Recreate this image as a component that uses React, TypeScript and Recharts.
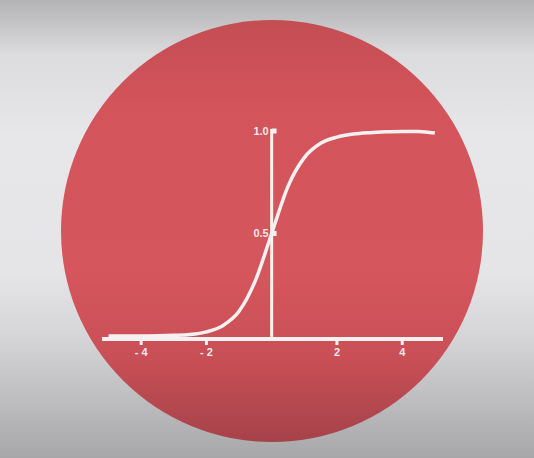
import React from 'react';
import { LineChart, Line, XAxis, YAxis, ReferenceLine } from 'recharts';

// sigmoid-shaped curve
const xValues = [-5, -4.5, -4, -3.5, -3, -2.5, -2, -1.5, -1, -0.5, 0, 0.5, 1, 1.5, 2, 2.5, 3, 3.5, 4, 4.5, 5];
const yValues = [0.0, 0.0, 0.0, 0.001, 0.003, 0.007, 0.02, 0.05, 0.12, 0.27, 0.5, 0.73, 0.87, 0.94, 0.97, 0.985, 0.992, 0.996, 0.998, 0.998, 0.99];
const xTicks = [-4, -2, 2, 4];
const yTicks = [0.5, 1.0];

const data = xValues.map((x, i) => ({ x, y: yValues[i] }));

const WHITE = '#f6f1f1';
const fmtX = (v: number) => (v < 0 ? `- ${Math.abs(v)}` : `${v}`);

export default function App() {
  return (
    <div
      style={{
        position: 'absolute',
        left: 0,
        top: 0,
        width: 534,
        height: 458,
        overflow: 'hidden',
        background:
          'linear-gradient(to bottom, #b3b2b5 0%, #dcdbde 12%, #e7e6e9 30%, #e5e4e7 60%, #d3d2d5 75%, #a7a7a9 100%)',
        fontFamily: '"Liberation Sans", Arial, sans-serif',
      }}
    >
      {/* red disc behind the chart */}
      <div
        style={{
          position: 'absolute',
          left: 61,
          top: 20,
          width: 422,
          height: 422,
          borderRadius: '50%',
          background:
            'linear-gradient(to bottom, #c44d54 0%, #d3545a 20%, #d5565c 60%, #c94f56 80%, #a6424a 100%)',
        }}
      />
      <div style={{ position: 'absolute', left: 0, top: 0 }}>
        <LineChart
          width={534}
          height={458}
          data={data}
          margin={{ top: 131, right: 91, bottom: 89, left: 102 }}
        >
          <XAxis
            dataKey="x"
            type="number"
            domain={[-5.2, 5.25]}
            ticks={xTicks}
            tickFormatter={fmtX}
            axisLine={{ stroke: WHITE, strokeWidth: 4 }}
            tickLine={{ stroke: WHITE, strokeWidth: 3 }}
            tickSize={6}
            tickMargin={3}
            tick={{ fill: '#f1e9ea', fontSize: 11, fontWeight: 'bold' }}
            height={30}
          />
          <YAxis hide type="number" domain={[-0.015, 1]} />
          {/* vertical axis through zero */}
          <ReferenceLine
            segment={[{ x: 0, y: -0.015 }, { x: 0, y: 1.01 }]}
            stroke={WHITE}
            strokeWidth={3}
            ifOverflow="visible"
          />
          {yTicks.map((t) => (
            <ReferenceLine
              key={t}
              segment={[{ x: 0, y: t }, { x: 0.15, y: t }]}
              stroke={WHITE}
              strokeWidth={5}
              ifOverflow="visible"
              label={{
                value: t.toFixed(1),
                position: 'left',
                offset: 3,
                fill: '#f1e9ea',
                fontSize: 11,
                fontWeight: 'bold',
              }}
            />
          ))}
          <Line
            type="monotone"
            dataKey="y"
            stroke={WHITE}
            strokeWidth={3.5}
            dot={false}
            isAnimationActive={false}
          />
        </LineChart>
      </div>
    </div>
  );
}
